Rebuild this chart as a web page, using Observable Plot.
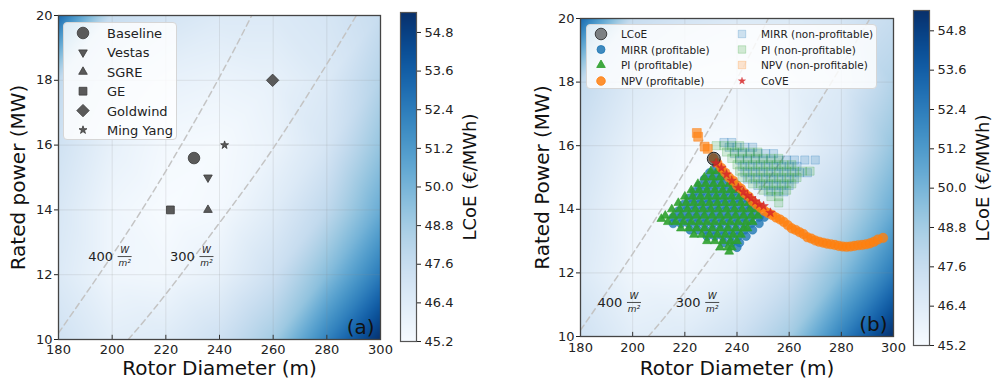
<!DOCTYPE html>
<html><head><meta charset="utf-8">
<script src="https://cdn.jsdelivr.net/npm/d3@7"></script>
<script src="https://cdn.jsdelivr.net/npm/@observablehq/plot@0.6"></script>
<style>
html,body{margin:0;padding:0;background:#fff;}
#root{position:relative;width:994px;height:384px;overflow:hidden;font-family:"DejaVu Sans",sans-serif;color:#222;}
#root svg.pl{position:absolute;top:0;overflow:visible;}
.leg{position:absolute;box-sizing:border-box;background:rgba(255,255,255,0.82);border:1px solid #d6d6d6;border-radius:4px;}
.leg svg{position:absolute;left:0;top:0;overflow:visible;}
.item{position:absolute;white-space:nowrap;line-height:1;transform:translateY(-50%);}
</style></head><body><div id="root"></div>
<script>
// ---------- axes / ticks ----------
const xTicks = [180, 200, 220, 240, 260, 280, 300];
const yTicks = [10, 12, 14, 16, 18, 20];
const cbTicks = [45.2, 46.4, 47.6, 48.8, 50.0, 51.2, 52.4, 53.6, 54.8];
const lcoeMin = 45.2, lcoeMax = 55.42;

// ---------- LCoE background field ----------
const gridD = [180, 200, 220, 240, 260, 280, 300];
const gridP = [20, 18, 16, 14, 12, 10];
const gridLCoE = [
  [53.2, 47.6, 47.0, 46.6, 46.6, 46.9, 47.6],
  [47.8, 46.6, 46.0, 45.8, 46.0, 46.6, 48.3],
  [47.2, 46.0, 45.4, 45.3, 45.8, 46.9, 49.2],
  [46.8, 45.6, 45.2, 45.4, 46.4, 47.9, 50.4],
  [46.6, 45.6, 45.5, 46.0, 47.3, 49.6, 52.5],
  [47.2, 46.3, 46.5, 47.3, 48.8, 52.2, 55.4]
];

// ---------- specific power lines ----------
const sp400D = [180, 200, 220, 240, 252];
const sp400P = [10.2, 12.6, 15.2, 18.1, 20.0];
const sp300D = [206, 220, 240, 260, 280, 291];
const sp300P = [10.0, 11.4, 13.6, 15.9, 18.5, 20.0];
const spLabelText = ["400", "300"];
const spLabelA_D = [195.7, 226.2], spLabelA_P = [12.56, 12.56];
const spLabelB_D = [191.3, 221.3], spLabelB_P = [11.07, 11.07];

// ---------- panel (a): turbines ----------
const turbNames = ["Baseline", "Vestas", "SGRE", "GE", "Goldwind", "Ming Yang"];
const turbD = [230.5, 235.7, 235.7, 221.7, 259.8, 241.9];
const turbP = [15.6, 15.0, 14.0, 14.0, 18.0, 16.0];

// ---------- panel (b): design points ----------
const lcoeOptD = [231.1], lcoeOptP = [15.59];

const mirrProfP = [15.35, 15.15, 14.95, 14.75, 14.55, 14.35, 14.15, 13.95, 13.75, 13.55, 13.35, 13.15, 12.95, 12.8];
const mirrProfD = [
  [232],
  [229.5, 232.5, 234.5],
  [227.5, 230.5, 233.5, 236.5],
  [225.5, 228.5, 231.5, 234.5, 237.5, 239],
  [223.5, 226.5, 229.5, 232.5, 235.5, 238.5, 241.5],
  [221.5, 224.5, 227.5, 230.5, 233.5, 236.5, 239.5, 242.5],
  [219.5, 222.5, 225.5, 228.5, 231.5, 234.5, 237.5, 240.5, 243.5, 245.5],
  [217.5, 220.5, 223.5, 226.5, 229.5, 232.5, 235.5, 238.5, 241.5, 244.5, 247.5],
  [215.5, 218.5, 221.5, 224.5, 227.5, 230.5, 233.5, 236.5, 239.5, 242.5, 245.5, 248.5, 250.5],
  [215.5, 218.5, 221.5, 224.5, 227.5, 230.5, 233.5, 236.5, 239.5, 242.5, 245.5, 248.5],
  [222, 225, 228, 231, 234, 237, 240, 243, 246],
  [228.5, 231.5, 234.5, 237.5, 240.5, 243.5],
  [235, 238, 241],
  [240]
];

const piProfP = [15.2, 15.0, 14.8, 14.6, 14.4, 14.2, 14.0, 13.8, 13.7, 13.6, 13.4, 13.2, 13.0, 12.8, 12.67];
const piProfD = [
  [230, 232.5],
  [227.5, 230.5, 233.5],
  [225, 228, 231, 234, 237],
  [222.5, 225.5, 228.5, 231.5, 234.5, 237.5, 240],
  [220, 223, 226, 229, 232, 235, 238, 241],
  [217.5, 220.5, 223.5, 226.5, 229.5, 232.5, 235.5, 238.5, 241.5, 244.5],
  [215, 218, 221, 224, 227, 230, 233, 236, 239, 242, 245, 247.5],
  [212.5, 215.5, 218.5, 221.5, 224.5, 227.5, 230.5, 233.5, 236.5, 239.5, 242.5, 245.5, 248],
  [211],
  [213.5, 216.5, 219.5, 222.5, 225.5, 228.5, 231.5, 234.5, 237.5, 240.5, 243.5, 246],
  [218.5, 221.5, 224.5, 227.5, 230.5, 233.5, 236.5, 239.5, 242.5, 244],
  [223.5, 226.5, 229.5, 232.5, 235.5, 238.5, 241.5],
  [228.5, 231.5, 234.5, 237.5, 240],
  [233.5, 236.5, 238],
  [237]
];

const npvProfD = [231, 232.5, 234, 235.5, 237, 238.5, 240, 241.5, 243, 244.5, 246, 247.5, 249, 250.5, 252, 253.5, 255, 256.5, 258, 259.5, 261, 262.5, 264, 265.5, 267, 268.5, 270, 271.5, 273, 274.5, 276, 277.5, 279, 280.5, 282, 283.5, 285, 286.5, 288, 289.5, 291, 292.5, 294, 296];
const npvProfP = [15.6, 15.45, 15.3, 15.15, 15.0, 14.9, 14.75, 14.65, 14.5, 14.4, 14.25, 14.15, 14.05, 13.95, 13.88, 13.82, 13.74, 13.68, 13.6, 13.5, 13.4, 13.35, 13.28, 13.22, 13.12, 13.08, 13.02, 12.98, 12.95, 12.92, 12.9, 12.88, 12.85, 12.83, 12.82, 12.83, 12.85, 12.87, 12.88, 12.9, 12.93, 12.98, 13.05, 13.1];

const mirrNonP = [16.1, 15.95, 15.75, 15.55, 15.35, 15.15, 14.95, 14.75, 14.55];
const mirrNonD = [
  [235, 238],
  [237, 240, 243, 246],
  [239, 242, 245, 248, 251, 254],
  [241, 244, 247, 250, 253, 256, 259, 262, 266, 270],
  [242, 245, 248, 251, 254, 257, 260, 263],
  [243, 246, 249, 252, 255, 258, 261, 264, 267],
  [244, 247, 250, 253, 256, 259, 262],
  [248, 251, 254, 257, 260],
  [252, 255, 258]
];

const piNonP = [16.0, 15.8, 15.6, 15.4, 15.2, 15.0, 14.8, 14.6, 14.4, 14.2];
const piNonD = [
  [232, 235, 238, 241],
  [236, 239, 242, 245, 248],
  [238, 241, 244, 247, 250, 253, 256],
  [240, 243, 246, 249, 252, 255, 258, 261],
  [241, 244, 247, 250, 253, 256, 259, 262, 265, 268],
  [242, 245, 248, 251, 254, 257, 260, 263],
  [246, 249, 252, 255, 258, 261],
  [250, 253, 256, 259],
  [253, 256],
  [256]
];

const npvNonD = [224.6, 225.1, 227.6, 228.8];
const npvNonP = [16.4, 16.28, 15.97, 15.9];

const coveD = [232, 234, 236, 238, 240.5, 242.5, 244, 245.5, 247, 248.5, 250.2, 252.8];
const coveP = [15.45, 15.3, 15.1, 14.9, 14.68, 14.55, 14.43, 14.35, 14.25, 14.15, 14.1, 13.89];

// ---------- build tables ----------
const heat = [];
gridP.forEach((p, i) => gridD.forEach((d, j) => heat.push({d, p, v: gridLCoE[i][j]})));
const zip = (D, P) => D.map((d, i) => ({d, p: P[i]}));
const rows = (P, D) => P.flatMap((p, i) => D[i].map(d => ({d, p})));
const sp400 = zip(sp400D, sp400P), sp300 = zip(sp300D, sp300P);
const labA = spLabelText.map((t, i) => ({t, d: spLabelA_D[i], p: spLabelA_P[i]}));
const labB = spLabelText.map((t, i) => ({t, d: spLabelB_D[i], p: spLabelB_P[i]}));
const turbines = turbNames.map((n, i) => ({n, d: turbD[i], p: turbP[i]}));
const mirrProf = rows(mirrProfP, mirrProfD);
const piProf = rows(piProfP, piProfD);
const npvProf = zip(npvProfD, npvProfP);
const mirrNon = rows(mirrNonP, mirrNonD);
const piNon = rows(piNonP, piNonD);
const npvNon = zip(npvNonD, npvNonP);
const cove = zip(coveD, coveP);
const lcoeOpt = zip(lcoeOptD, lcoeOptP);

// ---------- styles ----------
const FONT = "'DejaVu Sans', sans-serif";
const colorScale = {type: "linear", scheme: "blues", domain: [lcoeMin, lcoeMax], clamp: true};
const hline = {draw(ctx, size) { const w = Math.sqrt(size / Math.PI); ctx.moveTo(-w, 0); ctx.lineTo(w, 0); }};
const turbStyle = {
  "Baseline": {symbol: "circle", r: 5.8, rotate: 0},
  "Vestas": {symbol: "triangle", r: 3.2, rotate: 180},
  "SGRE": {symbol: "triangle", r: 3.2, rotate: 0},
  "GE": {symbol: "square", r: 4.4, rotate: 0},
  "Goldwind": {symbol: "diamond2", r: 5.6, rotate: 0},
  "Ming Yang": {symbol: "star", r: 2.5, rotate: 0}
};
const GRAY = "#5a5a5a";

function spMarks(lab) {
  return [
    Plot.text(lab, {x: "d", y: "p", text: "t", fontSize: 13, fill: "#222"}),
    Plot.text(lab, {x: "d", y: "p", text: () => "W", dx: 24, dy: -6.5, fontSize: 9, fontStyle: "italic", fill: "#222"}),
    Plot.text(lab, {x: "d", y: "p", text: () => "m²", dx: 24, dy: 7, fontSize: 9, fontStyle: "italic", fill: "#222"}),
    Plot.dot(lab, {x: "d", y: "p", symbol: hline, r: 7, dx: 24, fill: "none", stroke: "#222", strokeWidth: 0.8})
  ];
}

function panel(o) {
  const svg = Plot.plot({
    width: o.w, height: 384,
    marginLeft: o.ml, marginRight: o.mr, marginTop: o.mt, marginBottom: o.mb,
    x: {domain: [180, 300]}, y: {domain: [10, 20]},
    color: colorScale,
    style: {fontFamily: FONT, fontSize: "13px", color: "#222", background: "transparent", overflow: "visible"},
    marks: [
      Plot.raster(heat, {x: "d", y: "p", fill: "v", interpolate: "barycentric", x1: 180, x2: 300, y1: 10, y2: 20, pixelSize: 1}),
      Plot.gridX(xTicks, {stroke: "#8a8a8a", strokeOpacity: 0.18}),
      Plot.gridY(yTicks, {stroke: "#8a8a8a", strokeOpacity: 0.18}),
      Plot.line(sp400, {x: "d", y: "p", stroke: "#c4c4c4", strokeWidth: 1.5, strokeDasharray: "6,4", curve: "natural", clip: true}),
      Plot.line(sp300, {x: "d", y: "p", stroke: "#c4c4c4", strokeWidth: 1.5, strokeDasharray: "6,4", curve: "natural", clip: true}),
      ...spMarks(o.lab),
      ...o.marks,
      Plot.ruleX(xTicks.slice(1, -1), {x: d => d, y1: 10, y2: 10.13, stroke: "#333", strokeWidth: 1}),
      Plot.axisX(xTicks, {anchor: "bottom", tickSize: 0, tickPadding: o.xpad, label: null, fontSize: 13}),
      Plot.axisY(yTicks, {anchor: "left", tickSize: 4, tickPadding: 2, label: null, fontSize: 13}),
      Plot.frame({stroke: "#444", strokeWidth: 1.3}),
      Plot.text([o.xlabel], {text: d => d, frameAnchor: "bottom", lineAnchor: "middle", textAnchor: "middle", dy: o.xdy, fontSize: 20, fill: "#111"}),
      Plot.text([o.ylabel], {text: d => d, frameAnchor: "left", lineAnchor: "middle", textAnchor: "middle", rotate: -90, dx: o.ydx, fontSize: 20, fill: "#111"}),
      Plot.text([o.tag], {text: d => d, frameAnchor: "bottom-right", textAnchor: "end", lineAnchor: "bottom", dx: -6, dy: -6, fontSize: 20, fill: "#111"})
    ]
  });
  svg.classList.add("pl");
  svg.style.left = o.left + "px";
  return svg;
}

function colorbar(o) {
  const svg = Plot.plot({
    width: o.w, height: 384, marginLeft: 10, marginRight: o.w - 26, marginTop: o.mt, marginBottom: o.mb,
    x: {domain: [0, 1], axis: null}, y: {domain: [lcoeMin, lcoeMax], axis: null},
    color: colorScale,
    style: {fontFamily: FONT, fontSize: "13px", color: "#222", background: "transparent", overflow: "visible"},
    marks: [
      Plot.raster({fill: (x, y) => y, x1: 0, x2: 1, y1: lcoeMin, y2: lcoeMax, pixelSize: 1}),
      Plot.axisY(cbTicks, {anchor: "right", tickSize: 4, tickPadding: 4, tickFormat: d => d.toFixed(1), label: null, fontSize: 13}),
      Plot.frame({stroke: "#555", strokeWidth: 1.2}),
      Plot.text(["LCoE (€/MWh)"], {text: d => d, frameAnchor: "right", textAnchor: "middle", lineAnchor: "middle", rotate: -90, dx: 54, fontSize: 18, fill: "#111"})
    ]
  });
  svg.classList.add("pl");
  svg.style.left = o.left + "px";
  return svg;
}

const root = document.getElementById("root");

// ---------- panel (a) ----------
const turbMarks = turbines.map(t => Plot.dot([t], {x: "d", y: "p", symbol: turbStyle[t.n].symbol, r: turbStyle[t.n].r, rotate: turbStyle[t.n].rotate, fill: GRAY, stroke: "#3a3a3a", strokeWidth: 0.8}));
root.appendChild(panel({
  left: 0, w: 390, ml: 58, mr: 10, mt: 15, mb: 45, xpad: 5, xdy: 29, ydx: -40,
  xlabel: "Rotor Diameter (m)", ylabel: "Rated power (MW)", tag: "(a)", lab: labA, marks: turbMarks
}));
root.appendChild(colorbar({left: 390, w: 104, mt: 12, mb: 43}));

// ---------- panel (b) ----------
const sq = {symbol: "square", r: 4.6, strokeWidth: 0.8};
const bMarks = [
  Plot.dot(mirrProf, {x: "d", y: "p", r: 4.2, fill: "#1f77b4", fillOpacity: 0.8, stroke: "#1f77b4", strokeOpacity: 0.9, strokeWidth: 0.6}),
  Plot.dot(piProf, {x: "d", y: "p", symbol: "triangle", r: 3.3, fill: "#2ca02c", fillOpacity: 0.9, stroke: "#2ca02c", strokeWidth: 0.6}),
  Plot.dot(npvProf, {x: "d", y: "p", r: 4.8, fill: "#ff7f0e", fillOpacity: 0.8, stroke: "#ff7f0e", strokeOpacity: 0.6, strokeWidth: 0.6}),
  Plot.dot(mirrNon, {x: "d", y: "p", ...sq, fill: "#1f77b4", fillOpacity: 0.2, stroke: "#1f77b4", strokeOpacity: 0.3}),
  Plot.dot(piNon, {x: "d", y: "p", ...sq, fill: "#2ca02c", fillOpacity: 0.18, stroke: "#2ca02c", strokeOpacity: 0.28}),
  Plot.dot(npvNon, {x: "d", y: "p", ...sq, r: 5, fill: "#ff7f0e", fillOpacity: 0.65, stroke: "#ff7f0e", strokeOpacity: 0.6}),
  Plot.dot(lcoeOpt, {x: "d", y: "p", r: 6.5, fill: "#333", fillOpacity: 0.6, stroke: "#222", strokeWidth: 1}),
  Plot.dot(cove, {x: "d", y: "p", symbol: "star", r: 3, fill: "#d62728", fillOpacity: 0.85, stroke: "#d62728", strokeWidth: 0.4})
];
root.appendChild(panel({
  left: 500, w: 403, ml: 80, mr: 10, mt: 18, mb: 48, xpad: 6, xdy: 32, ydx: -38,
  xlabel: "Rotor Diameter (m)", ylabel: "Rated Power (MW)", tag: "(b)", lab: labB, marks: bMarks
}));
root.appendChild(colorbar({left: 903, w: 91, mt: 10, mb: 39}));

// ---------- legends ----------
const d3sym = {circle: d3.symbolCircle, triangle: d3.symbolTriangle, square: d3.symbolSquare, diamond2: d3.symbolDiamond2, star: d3.symbolStar};
function legend(o) {
  const box = document.createElement("div");
  box.className = "leg";
  Object.assign(box.style, {left: o.left + "px", top: o.top + "px", width: o.w + "px", height: o.h + "px"});
  const ns = "http://www.w3.org/2000/svg";
  const s = document.createElementNS(ns, "svg");
  s.setAttribute("width", o.w); s.setAttribute("height", o.h);
  box.appendChild(s);
  o.items.forEach(it => {
    const p = document.createElementNS(ns, "path");
    p.setAttribute("d", d3.symbol(d3sym[it.symbol], Math.PI * it.r * it.r)());
    p.setAttribute("transform", `translate(${it.mx},${it.y}) rotate(${it.rotate || 0})`);
    p.setAttribute("fill", it.fill);
    p.setAttribute("fill-opacity", it.fo ?? 1);
    p.setAttribute("stroke", it.stroke || it.fill);
    p.setAttribute("stroke-opacity", it.so ?? 1);
    p.setAttribute("stroke-width", it.sw ?? 0.8);
    s.appendChild(p);
    const t = document.createElement("div");
    t.className = "item";
    t.textContent = it.label;
    Object.assign(t.style, {left: it.tx + "px", top: it.y + "px", fontSize: o.fs + "px"});
    box.appendChild(t);
  });
  root.appendChild(box);
}

legend({
  left: 63, top: 22, w: 114, h: 118, fs: 13,
  items: turbNames.map((n, i) => ({
    label: n, mx: 19, tx: 43, y: 10 + i * 19.4,
    symbol: turbStyle[n].symbol, r: turbStyle[n].r, rotate: turbStyle[n].rotate,
    fill: GRAY, stroke: "#3a3a3a"
  }))
});

const rowY = [9, 24.5, 40, 56];
legend({
  left: 586, top: 24, w: 291, h: 65, fs: 10.5,
  items: [
    {label: "LCoE", mx: 14, tx: 34, y: rowY[0], symbol: "circle", r: 5.8, fill: "#333", fo: 0.6, stroke: "#222"},
    {label: "MIRR (profitable)", mx: 14, tx: 34, y: rowY[1], symbol: "circle", r: 4, fill: "#1f77b4", fo: 0.85},
    {label: "PI (profitable)", mx: 14, tx: 34, y: rowY[2], symbol: "triangle", r: 3.2, fill: "#2ca02c", fo: 0.9},
    {label: "NPV (profitable)", mx: 14, tx: 34, y: rowY[3], symbol: "circle", r: 4.3, fill: "#ff7f0e", fo: 0.85},
    {label: "MIRR (non-profitable)", mx: 155, tx: 174, y: rowY[0], symbol: "square", r: 4.2, fill: "#1f77b4", fo: 0.2, so: 0.3},
    {label: "PI (non-profitable)", mx: 155, tx: 174, y: rowY[1], symbol: "square", r: 4.2, fill: "#2ca02c", fo: 0.2, so: 0.3},
    {label: "NPV (non-profitable)", mx: 155, tx: 174, y: rowY[2], symbol: "square", r: 4.2, fill: "#ff7f0e", fo: 0.2, so: 0.3},
    {label: "CoVE", mx: 155, tx: 174, y: rowY[3], symbol: "star", r: 2.3, fill: "#d62728", fo: 0.85, sw: 0.3}
  ]
});
</script></body></html>
